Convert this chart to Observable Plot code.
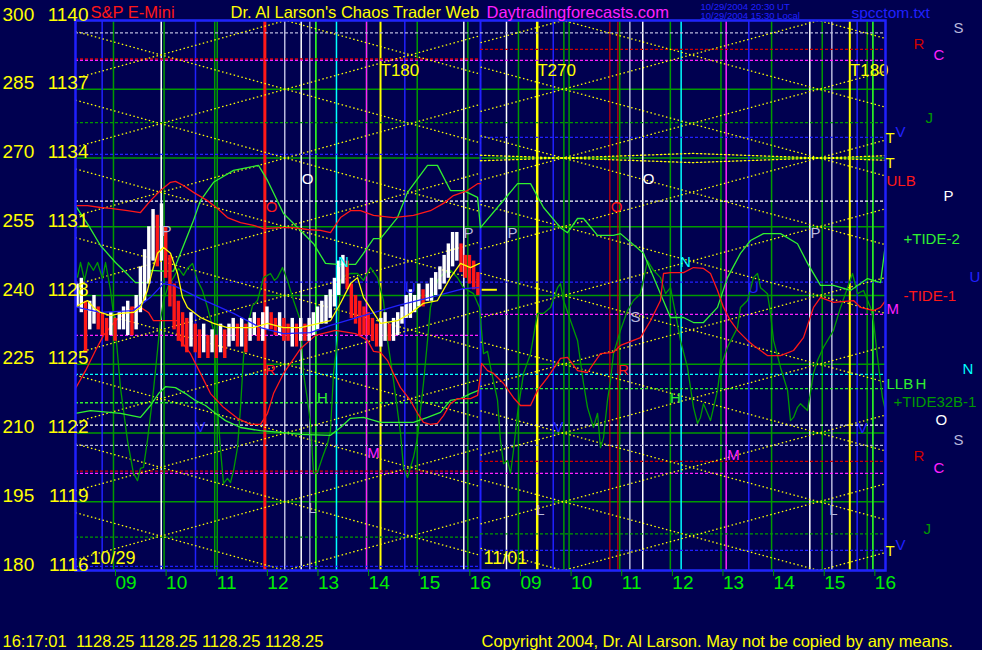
<!DOCTYPE html>
<html><head><meta charset="utf-8">
<script src="https://cdn.jsdelivr.net/npm/d3@7"></script>
<script src="https://cdn.jsdelivr.net/npm/@observablehq/plot@0.6"></script>
<style>
html,body{margin:0;padding:0;background:#000050;}
#chart{width:982px;height:650px;overflow:hidden;}
</style></head>
<body><div id="chart"></div>
<script>
// ---------- DATA ----------
// x = session minutes: 0 = 08:15 on 10/29, 480 = 08:15 on 11/01 (10/29 session ends 16:15)
// y = chart level (left scale 180..300); price = 1116 + (level-180)/5
const hourTicks  = [45,105,165,225,285,345,405,465,525,585,645,705,765,825,885,945];
const hourLabels = ["09","10","11","12","13","14","15","16","09","10","11","12","13","14","15","16"];
const levelTicks = [180,195,210,225,240,255,270,285,300];
const priceTicks = ["1116","1119","1122","1125","1128","1131","1134","1137","1140"];
const dayStarts  = [0, 480];
const dayLabels  = ["10/29", "11/01"];
const dayLabelDx = [15, 3];

// vertical event lines
const eventT     = [31.6,101.6,142.2,168,224.4,248,267.5,277.7,284.8,309.3,344.9,361.5,390.3,460.2,480,
                    510.8,547.2,566.2,578.8,633.3,642.8,657,672.3,717.8,771.2,798,870.3,896.4,917.7,926.4,938.3,945];
const eventColor = ["blue","white","blue","dkgreen","red","lav","white","grey","lime","cyan","mag","yel","blue","white","blue",
                    "white","yel","blue","dkgreen","dred","dred","lav","white","cyan","mag","blue","white","lav","yel","blue","dkgreen","lime"];
const eventWidth = [1.5,1.5,1.5,1.5,3,1.5,1.5,1.5,1.5,1.5,1.5,2,1.5,1.5,2,
                    1.5,2.5,1.5,1.5,1.2,1.2,1.5,1.5,1.5,1.5,1.5,1.5,1.5,2,1.5,1.5,1.5];
const turnLabels = ["T180","T270","T180"];
const turnT      = [361.5, 547.2, 917.7];

// horizontal dotted levels (day 1 level, day 2 level) and their right-hand labels
const hColor  = ["lav","dred","mag","dkgreen","blue","white","blue","mag","cyan","lime","white","lav","dred","mag","dkgreen","blue"];
const hDay1   = [297.3,291.6,291.3,277.7,270.8,260.6,242.9,231.3,222.8,216.6,211.7,207.3,201.7,201.2,187.3,180.9];
const hDay2   = [297.3,293.7,291.3,277.7,274.5,260.6,242.9,235.9,222.8,219.7,211.7,207.3,203.8,201.2,188.0,184.4];
const hLabel  = ["S","R","C","J","V","P","U","M","N","LLB","O","S","R","C","J","V"];
const hLabelDx= [68,28,48,40,10,58,84,1,77,1,50,68,28,48,38,10];

// yellow angle lattice: lines cross grid levels at "cross" minute, moving 7.5 levels per half period
const latticeGrid  = [165,180,195,210,225,240,255,270,285,300,315];
const latticeStart = [0, 480];
const latticeEnd   = [480, 960];
const latticeCross = [249, 578];
const latticeHalf  = [148, 151.5];
// shallow yellow pair around the 270 level on 11/01, [minute, level]
const shallowA = [[480,270.6],[578,270],[731,269.0],[883,270],[960,270.5]];
const shallowB = [[480,269.4],[578,270],[731,271.0],[883,270],[960,269.5]];

// 5-minute price bars, 10/29
const barHigh = [1128.5,1128.75,1127.75,1127.75,1128,1127.5,1127.25,1127,1127.25,1127,1127.25,1127.5,1127.75,1127.5,1128,
  1129.25,1130,1131,1131.75,1131.5,1132,1131,1129.75,1128.5,1127.75,1127.25,1127,1127.25,1126.75,1126.5,1126.75,1126.25,
  1126.5,1126.25,1126.75,1126.5,1126.75,1127,1126.75,1127,1126.75,1127,1127.25,1127,1127.25,1127.5,1127.25,1127,1127.25,
  1127,1126.75,1127,1126.75,1127,1126.75,1127,1127.25,1127.5,1127.75,1128,1128.25,1128.75,1129.5,1129.75,1129.5,1128.5,
  1128,1127.75,1127.5,1127.25,1127,1126.75,1127,1127.25,1126.75,1127,1127.25,1127.5,1128,1128.25,1128,1128.5,1128.25,
  1128.5,1128.75,1129,1129.25,1129.75,1130.25,1130.75,1130.75,1130.25,1129.75,1129.75,1129.5,1129];
const barLow = [1127.5,1127.25,1125.5,1126.5,1126.75,1126.5,1126.25,1126,1126.25,1126,1126.5,1126.5,1126.25,1126.25,1126.5,
  1127.25,1127.75,1128.5,1129.5,1129.25,1129.5,1128.75,1127.5,1126.5,1126,1125.75,1125.5,1125.75,1125.5,1125.25,1125.5,1125.25,
  1125.5,1125.25,1125.5,1125.25,1125.75,1126,1125.75,1125.75,1125.5,1126,1126.25,1126,1126,1126.5,1126.5,1126.25,1126.25,
  1126,1126,1125.75,1125.75,1126,1126,1126,1126.25,1126.5,1126.75,1126.75,1127,1127.5,1128,1128.5,1128.25,1127,
  1126.75,1126.25,1126.25,1126.25,1126,1125.75,1125.75,1126,1126,1126,1126.25,1126.75,1127,1127,1127.25,1127.5,1127.5,
  1127.75,1127.75,1128,1128.25,1128.5,1128.75,1129.25,1129.5,1129,1128.75,1128.5,1128.25,1128];
const lastPrice = 1128.25;

// fast (yellow) and slow (blue) price averages, [minute, level]
const fastAvg = [[2.4,237.8],[14.2,238.9],[21.3,237.4],[29.6,236.3],[41.5,235.6],[53.3,236.1],[68.7,236.3],[77,237.4],
  [85.3,241.1],[91.3,245.5],[97.2,249.2],[104.3,250.5],[112.6,249.2],[120.9,244.8],[126.8,239.6],[132.7,237.4],[148.1,235.2],
  [163.6,233.9],[180.1,233],[211,233],[227.6,233.9],[246.5,233],[266.7,233],[302.2,234.5],[314.1,238.3],[325.9,242.6],
  [334.2,243.9],[341.3,239.6],[361.5,233.9],[381.6,234.5],[397,236.1],[412.4,238.3],[429,238.9],[444.4,243.9],[456.3,247],
  [468.1,246.1],[478.8,247]];
const slowAvg = [[2.4,237.4],[29.6,236.3],[68.7,236.7],[88.9,239.6],[104.3,242.6],[116.1,242.2],[148.1,239.3],[187.3,236.1],
  [219.3,233],[246.5,231.7],[278.5,231.9],[302.2,233.5],[341.3,235.6],[381.6,237.8],[420.7,239.6],[459.9,241.5],[477.6,241.7]];

// tide curves, [minute, level]
const tidePlus2 = [[0,259.6],[15.4,255.3],[29.6,250.9],[47.4,247.2],[62.8,244.4],[71.1,242.8],[85.3,242.8],[88.9,245.5],
  [104.3,245.3],[116.1,245.3],[124.4,249.2],[139.9,256.4],[148.1,260.7],[163.6,264.7],[187.3,267.3],[216.9,268.4],[227.6,265.1],
  [246.5,257.9],[266.7,254.2],[282.1,251.3],[296.3,247],[310.5,246.8],[331.9,246.8],[341.3,249.2],[353.2,252.4],[361.5,252.4],
  [381.6,257],[393.5,262.5],[417.2,268.4],[429,268.4],[444.4,262.9],[459.9,262.9],[476.5,261.4],[480,254.8],
  [523.9,264.4],[539.3,264.4],[554.7,259.2],[574.8,254.8],[583.1,253.7],[595,256.8],[602.1,256.8],[618.7,253.1],[637.6,253.1],
  [645.9,253.5],[673.2,249.2],[693.3,240.4],[705.2,235.2],[720.6,235.2],[732.4,234.1],[744.3,234.1],[760.9,237.4],[772.7,243.9],
  [788.1,249.2],[800,252],[815.4,253.5],[835.6,253.5],[855.7,251.3],[867.6,247],[883,242.2],[898.4,242.2],[918.5,241.1],
  [938.7,243.7],[954.1,242.8],[959,249.8],[960,250.9]];
const tideMinus1Upper = [[0,259.6],[14.2,259.6],[29.6,259.2],[41.5,259],[61.6,258.5],[77,258.1],[88.9,260.7],[100.7,262.9],
  [112.6,264.7],[118.5,264.9],[128,264],[139.9,262.5],[156.4,260.7],[168.3,259],[180.1,257],[195.6,255.9],[211,255.3],
  [222.8,254.6],[243,254.8],[258.4,254.8],[275,254.4],[290.4,254.2],[302.2,253.7],[314.1,257],[325.9,258.5],[337.8,258.5],
  [353.2,257.5],[376.9,257],[400.6,257.5],[420.7,258.5],[436.1,260.1],[448,261.8],[464.6,262.9],[476.5,264.4],[480,264.4]];
const tideMinus1 = [[0,219.7],[11.9,223.6],[23.7,228],[33.2,231.3],[47.4,234.5],[67.6,237.4],[77,237.4],[86.5,236.3],
  [92.4,234.5],[120.9,234.5],[124.4,230.2],[136.3,227.3],[148.1,223],[160,218.6],[175.4,215.6],[192,213.2],[207.4,211.9],
  [219.3,211.9],[227.6,214.3],[234.7,218.6],[246.5,223],[254.8,225.2],[266.7,228.4],[284.4,231.3],[308.1,232.4],[331.9,231.7],
  [346.1,230.2],[353.2,227.8],[361.5,227.6],[369.8,225.8],[376.9,223],[385.2,219.9],[397,217.1],[405.3,214.3],[412.4,212.3],
  [420.7,211.9],[429,212.1],[436.1,213.8],[444.4,216.4],[452.7,217.5],[468.1,217.5],[476.5,218.2],[480,222.5],
  [481.2,225.2],[488.3,223.6],[495.4,223],[507.3,220.8],[519.1,217.7],[527.4,216],[539.3,216],[547.6,219.3],[559.4,222.1],
  [574.8,226.3],[583.1,226.5],[595,223.6],[606.8,223.2],[622.2,227.3],[637.6,227.6],[645.9,229.1],[669.6,230.8],[681.5,234.5],
  [693.3,238.9],[696.9,244.8],[705.2,245],[720.6,245],[732.4,246.1],[744.3,245.9],[752.6,244.8],[760.9,241.1],[768,237.4],
  [776.3,234.5],[784.6,232.4],[796.4,230.2],[803.6,229.1],[820.1,226.9],[835.6,226.9],[851,228],[862.8,230.8],[874.7,237.4],
  [883,239.6],[898.4,238.5],[922.1,238.9],[930.4,237.4],[945.8,236.7],[954.1,237.4],[960,238.9]];
const lowerBand = [[0,214.3],[17.8,214.9],[53.3,214.3],[77,213.4],[88.9,216],[98.4,218.6],[106.7,220.1],[118.5,219.9],
  [130.4,218.6],[142.2,217.1],[154.1,216],[165.9,214.3],[177.8,212.7],[195.6,211.2],[219.3,210.5],[246.5,210.1],[266.7,209.7],
  [302.2,209.5],[314.1,211.2],[325.9,213.2],[341.3,213.4],[361.5,212.3],[400.6,212.3],[417.2,213.4],[432.6,214.5],[444.4,217.1],
  [456.3,217.5],[468.1,218.6],[477.6,219.3]];
const tide32B = [[2.4,244],[5.9,247.2],[10.7,243.3],[15.4,247.2],[21.3,245.5],[26.1,247.2],[32,243.7],[35.6,247.2],[41.5,241.1],
  [47.4,232.4],[53.3,219.9],[61.6,208.4],[68.7,201.2],[73.5,199.6],[77,202.3],[80.6,202.5],[85.3,208.4],[92.4,219.3],[97.2,228],
  [100.7,234.5],[104.3,238.9],[110.2,242.2],[116.1,243.9],[122.1,245.9],[128,244.4],[132.7,245.9],[138.7,247],[144.6,243.3],
  [150.5,241.1],[156.4,237.4],[163.6,232.4],[168.3,215.6],[171.9,206.2],[175.4,199],[180.1,200.1],[183.7,199.2],[187.3,201.8],
  [192,206.8],[195.6,215.6],[199.1,226.5],[203.9,233.5],[209.8,237.8],[215.7,238.9],[222.8,243.9],[231.1,244.8],[235.9,243.3],
  [239.4,243.9],[245.3,246.1],[248.9,244.4],[251.3,243.3],[258.4,238.9],[266.7,234.5],[270.2,223],[275,217.1],[278.5,212.1],
  [282.1,201.2],[286.8,201.4],[292.7,204.7],[298.7,207.7],[302.2,210.5],[305.8,223],[310.5,230.2],[314.1,243.3],[320,244.4],
  [325.9,244.8],[334.2,244.8],[341.3,243.3],[349.6,246.1],[357.9,243.9],[365,238.9],[369.8,230.2],[376.9,221.5],[385.2,209.9],
  [388.7,202.5],[393.5,200.3],[397,202.5],[400.6,204.7],[405.3,209],[412.4,220.8],[417.2,230.2],[420.7,237.4],[429,243.3],
  [436.1,244.8],[444.4,245.5],[452.7,243.9],[459.9,241.7],[471.7,240.4],[478.8,237.4],[483.6,227.3],[488.3,227.8],[491.9,224.3],
  [500.2,217.1],[503.7,208.4],[507.3,203.3],[512,204],[515.6,201.2],[519.1,206.2],[523.9,214.3],[531,223],[539.3,227.3],
  [547.6,236.1],[554.7,236.1],[563,237.4],[571.3,241.7],[574.8,242.6],[578.4,238.9],[586.7,234.5],[595,230.2],[602.1,220.8],
  [606.8,215.6],[613.9,211.2],[618.7,214.3],[622.2,206.8],[625.8,209],[630.5,217.1],[634.1,221.5],[637.6,227.3],[645.9,232.4],
  [654.2,236.7],[661.3,238.9],[669.6,240.4],[677.9,247.6],[685,245.5],[693.3,243.9],[699.3,240.4],[705.2,241.7],[711.1,236.1],
  [717,230.2],[725.3,224.3],[732.4,215.6],[737.2,212.1],[740.7,213.4],[744.3,216.4],[752.6,212.7],[760.9,219.3],[764.4,224.3],
  [772.7,228.7],[784.6,233],[788.1,237.4],[796.4,238.9],[803.6,243.9],[808.3,244.8],[811.9,241.7],[820.1,240.4],[823.7,236.1],
  [827.3,230.2],[835.6,224.3],[843.9,219.3],[847.4,212.7],[851,213.4],[855.7,215.6],[859.3,216.4],[867.6,214.9],[874.7,223],
  [879.4,225.8],[886.5,228.7],[898.4,232.4],[906.7,237.4],[915,241.7],[920.9,244.8],[926.9,240.4],[934,241.1],[942.2,237.4],
  [945.8,234.5],[950.5,226.5],[956.4,217.7],[960,214.9]];

// planet glyph letters inside the plot: [minute, level, letter, colour]
const glyphs = [[107.9,254,"P","lav"],[232.3,259.2,"O","red"],[275,265.3,"O","white"],[317.6,247.2,"N","cyan"],
  [397,241.7,"U","blue"],[465.8,253.5,"P","lav"],[517.9,253.5,"P","lav"],[641.2,259.2,"O","red"],[679.1,265.3,"O","white"],
  [663.7,235.2,"S","lav"],[723,247.2,"N","cyan"],[803.6,241.7,"U","blue"],[877,253.5,"P","lav"],[231.1,223.6,"R","red"],
  [292.7,217.5,"H","lime"],[148.1,211.2,"V","blue"],[280.9,193.5,"L","lav"],[353.2,205.5,"M","mag"],[572.4,211.2,"V","blue"],
  [551.1,193.1,"L","lav"],[649.5,223.6,"R","red"],[711.1,217.5,"H","lime"],[779.9,205.1,"M","mag"],[898.4,193.1,"L","lav"],
  [932.8,211,"V","blue"]];

// right-hand curve labels: [level, text, colour, dx]
const curveLabels = [[273.2,"T","yel",0],[267.8,"T","yel",0],[263.8,"ULB","red",1],[251.3,"+TIDE-2","lime",18],
  [238.9,"-TIDE-1","red",18],[219.7,"H","lime",30],[215.6,"+TIDE32B-1","dkgreen",8],[183.1,"T","yel",0]];

const stampText = "16:17:01\u00a0\u00a01128.25 1128.25 1128.25 1128.25";

// ---------- STYLE ----------
const C = {bg:"#000050", blue:"#2020ff", white:"#ffffff", lav:"#b8b8dc", grey:"#9c9cc8", dkgreen:"#009a00",
  lime:"#30f030", red:"#ff1818", dred:"#d00000", cyan:"#00ffff", mag:"#ff20ff", yel:"#ffff00", axis:"#00ee00"};
const FONT = "'Liberation Sans', Arial, Helvetica, sans-serif";

// ---------- DERIVED TABLES ----------
const toLevel = p => 180 + (p - 1116) * 5;
const events = eventT.map((t, i) => ({t, c: C[eventColor[i]], w: eventWidth[i]}));
const hLines = hColor.map((c, i) => ({c: C[c], L1: hDay1[i], L2: hDay2[i], label: hLabel[i], dx: hLabelDx[i]}));
const lattice = [];
latticeStart.forEach((s, k) => {
  for (const g of latticeGrid) for (const dir of [1, -1]) {
    const slope = dir * 7.5 / latticeHalf[k];
    lattice.push({t1: s, L1: g + slope * (s - latticeCross[k]), t2: latticeEnd[k], L2: g + slope * (latticeEnd[k] - latticeCross[k])});
  }
});
const bars = barHigh.map((h, i) => ({t: i * 5, hi: h, lo: barLow[i]}));
bars.forEach((b, i) => {
  const mid = (b.hi + b.lo) / 2, prev = i ? (bars[i-1].hi + bars[i-1].lo) / 2 : mid;
  b.c = mid >= prev ? C.white : C.red;
});
const hourMap = new Map(hourTicks.map((t, i) => [t, hourLabels[i]]));

// ---------- MARKS ----------
const txt = (s, anchor, dx, dy, o) => Plot.text([s], {text: d => d, frameAnchor: anchor, dx, dy, textAnchor: "start", lineAnchor: "bottom", ...o});

const marks = [
  // grid
  Plot.ruleX(hourTicks, {x: d => d, stroke: C.dkgreen, strokeWidth: 1.5}),
  Plot.ruleY(levelTicks, {y: d => d, stroke: C.dkgreen, strokeWidth: 1.5}),
  // event lines
  Plot.ruleX(events, {x: "t", stroke: "c", strokeWidth: "w"}),
  // dotted horizontal levels
  Plot.ruleY(hLines, {y: "L1", x1: 0, x2: 480, stroke: "c", strokeWidth: 1.3, strokeDasharray: "3,2"}),
  Plot.ruleY(hLines, {y: "L2", x1: 480, x2: 960, stroke: "c", strokeWidth: 1.3, strokeDasharray: "3,2"}),
  // yellow lattice
  Plot.link(lattice, {x1: "t1", y1: "L1", x2: "t2", y2: "L2", stroke: C.yel, strokeWidth: 1.3, strokeDasharray: "1.5,2.5", clip: true}),
  Plot.line(shallowA, {x: d => d[0], y: d => d[1], stroke: C.yel, strokeWidth: 1.3, strokeDasharray: "1.5,2.5"}),
  Plot.line(shallowB, {x: d => d[0], y: d => d[1], stroke: C.yel, strokeWidth: 1.3, strokeDasharray: "1.5,2.5"}),
  // tide curves
  Plot.line(tide32B, {x: d => d[0], y: d => d[1], stroke: C.dkgreen, strokeWidth: 1.3}),
  Plot.line(lowerBand, {x: d => d[0], y: d => d[1], stroke: C.lime, strokeWidth: 1.3}),
  Plot.line(tidePlus2, {x: d => d[0], y: d => d[1], stroke: C.lime, strokeWidth: 1.3}),
  Plot.line(tideMinus1Upper, {x: d => d[0], y: d => d[1], stroke: C.red, strokeWidth: 1.3}),
  Plot.line(tideMinus1, {x: d => d[0], y: d => d[1], stroke: C.red, strokeWidth: 1.3}),
  // price bars
  Plot.rect(bars, {x1: "t", x2: d => d.t + 5, y1: d => toLevel(d.lo), y2: d => toLevel(d.hi), fill: "c", insetLeft: 0.4, insetRight: 0.4}),
  Plot.line(slowAvg, {x: d => d[0], y: d => d[1], stroke: C.blue, strokeWidth: 1.3}),
  Plot.line(fastAvg, {x: d => d[0], y: d => d[1], stroke: C.yel, strokeWidth: 1.3}),
  Plot.ruleY([lastPrice], {y: d => toLevel(d), x1: 482, x2: 500, stroke: C.yel, strokeWidth: 2}),
  // glyph letters
  Plot.text(glyphs, {x: d => d[0], y: d => d[1], text: d => d[2], fill: d => C[d[3]], fontSize: 15}),
  // turn labels
  Plot.text(turnT, {x: d => d, y: 288, text: (d, i) => turnLabels[i], fill: C.yel, fontSize: 17, textAnchor: "start", lineAnchor: "bottom"}),
  // frame
  Plot.frame({stroke: C.blue, strokeWidth: 2.5}),
  // left axis labels
  Plot.text(levelTicks, {y: d => d, frameAnchor: "left", dx: -73, text: d => String(d), fill: C.yel, fontSize: 19, textAnchor: "start", lineAnchor: "bottom"}),
  Plot.text(levelTicks, {y: d => d, frameAnchor: "left", dx: 13, text: (d, i) => priceTicks[i], fill: C.yel, fontSize: 19, textAnchor: "end", lineAnchor: "bottom"}),
  // bottom axis
  Plot.axisX(hourTicks, {tickSize: 6, tickPadding: -1, tickFormat: d => hourMap.get(d), stroke: C.dkgreen, fill: C.axis, fontSize: 19, textAnchor: "start", dx: 2, label: null}),
  // header / footer
  txt("S&P E-Mini", "top-left", 15, -3, {fill: C.red, fontSize: 16.5}),
  txt("Dr. Al Larson's Chaos Trader Web", "top-left", 155, -3, {fill: C.yel, fontSize: 16.5}),
  txt("Daytradingforecasts.com", "top-left", 411, -3, {fill: C.mag, fontSize: 16.5}),
  txt("10/29/2004 20:30 UT", "top-left", 625, -11, {fill: C.blue, fontSize: 9.5}),
  txt("10/29/2004 15:30 Local", "top-left", 625, -1.5, {fill: C.blue, fontSize: 9.5}),
  txt("spcctom.txt", "top-left", 776, -3, {fill: C.blue, fontSize: 15.5}),
  txt(stampText, "bottom-left", -73, 76, {fill: C.yel, fontSize: 16.5}),
  txt("Copyright 2004, Dr. Al Larson. May not be copied by any means.", "bottom-left", 406, 76, {fill: C.yel, fontSize: 16.5})
];
// day labels (one mark each, own offset)
dayStarts.forEach((t, i) => marks.push(Plot.text([t], {x: d => d, y: 180, dx: dayLabelDx[i], dy: -7, text: () => dayLabels[i], fill: C.yel, fontSize: 18, textAnchor: "start", lineAnchor: "bottom"})));
// right-hand labels of dotted levels
for (const h of hLines) marks.push(Plot.text([h], {y: "L2", text: "label", frameAnchor: "right", dx: h.dx, fill: h.c, fontSize: 15, textAnchor: "start", lineAnchor: "bottom"}));
for (const [L, s, c, dx] of curveLabels) marks.push(Plot.text([L], {y: d => d, text: () => s, frameAnchor: "right", dx, fill: C[c], fontSize: 15, textAnchor: "start", lineAnchor: "bottom"}));

const chart = Plot.plot({
  width: 982, height: 650,
  marginLeft: 75, marginRight: 97, marginTop: 20, marginBottom: 80,
  x: {domain: [0, 960], axis: null},
  y: {domain: [180, 300], axis: null},
  color: {type: "identity"},
  style: {background: C.bg, fontFamily: FONT, overflow: "visible"},
  marks
});
document.getElementById("chart").appendChild(chart);
</script>
</body></html>
